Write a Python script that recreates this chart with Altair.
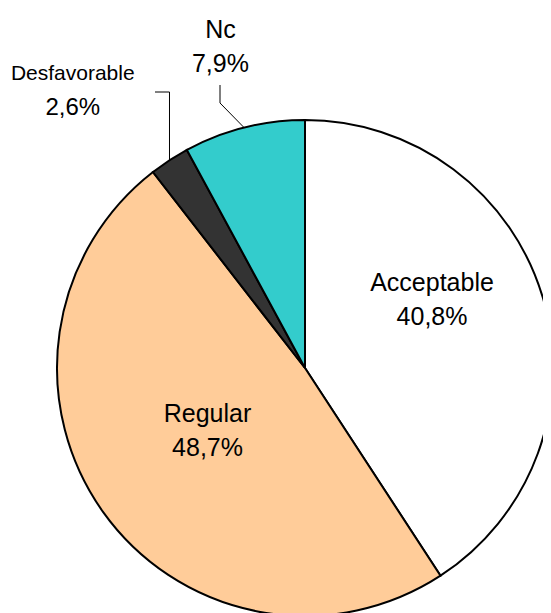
import math
import altair as alt
import pandas as pd

categories = ["Acceptable", "Regular", "Desfavorable", "Nc"]
values = [40.8, 48.7, 2.6, 7.9]
pct_labels = ["40,8%", "48,7%", "2,6%", "7,9%"]
colors = ["#FFFFFF", "#FFCC99", "#333333", "#33CCCC"]

W, H = 535, 605
CX, CY, R = 297, 360, 248

df = pd.DataFrame({
    "cat": categories,
    "value": values,
    "pct": pct_labels,
    "idx": list(range(len(categories))),
})

base = alt.Chart(df).transform_window(
    cum="sum(value)", sort=[alt.SortField("idx")]
).transform_calculate(
    mid="datum.cum - datum.value / 2",
    ex=f"{CX} + {R} * sin(datum.mid / 100 * 2 * PI)",
    ey=f"{CY} - {R} * cos(datum.mid / 100 * 2 * PI)",
)

theta_scale = alt.Scale(domain=[0, 100], range=[0, 2 * math.pi])
xs = alt.Scale(domain=[0, W], range=[0, W])
ys = alt.Scale(domain=[0, H], range=[0, H])

pie = alt.Chart(df).mark_arc(
    outerRadius=R, stroke="black", strokeWidth=2
).encode(
    theta=alt.Theta("value:Q", stack=True),
    color=alt.Color("cat:N", scale=alt.Scale(domain=categories, range=colors), legend=None),
    order=alt.Order("idx:Q"),
    x=alt.value(CX),
    y=alt.value(CY),
)

FONT = "Liberation Sans, Arial, sans-serif"
HALF = 17


def text_layer(cat, field, radius, dx, dy, size):
    return base.transform_filter(alt.datum.cat == cat).mark_text(
        radius=radius, dx=dx, dy=dy, font=FONT, fontSize=size,
        align="center", baseline="middle", color="black",
    ).encode(
        theta=alt.Theta("mid:Q", scale=theta_scale, stack=None),
        text=f"{field}:N",
        x=alt.value(CX),
        y=alt.value(CY),
    )


def label_pair(cat, radius, dx, dy, name_size=25, pct_size=25):
    return [
        text_layer(cat, "cat", radius, dx, dy - HALF, name_size),
        text_layer(cat, "pct", radius, dx, dy + HALF, pct_size),
    ]


labels = (
    label_pair("Acceptable", 144, -11, -27)
    + label_pair("Regular", 116, -3, -4)
    + label_pair("Desfavorable", 361, -35, 25, name_size=21, pct_size=24)
    + label_pair("Nc", 332, -3, 1)
)

# leader lines, starting at the slice edge (derived from data)
des = base.transform_filter(alt.datum.cat == "Desfavorable")
nc = base.transform_filter(alt.datum.cat == "Nc")

lead1 = des.mark_rule(color="black", strokeWidth=1).encode(
    x=alt.X("ex:Q", scale=xs, axis=None), y=alt.Y("ey:Q", scale=ys, axis=None),
    x2="ex:Q", y2=alt.value(84),
)
lead2 = des.mark_rule(color="black", strokeWidth=1).encode(
    x=alt.X("ex:Q", scale=xs, axis=None), x2=alt.value(147), y=alt.value(84),
)
lead3 = nc.mark_rule(color="black", strokeWidth=1).encode(
    x=alt.X("ex:Q", scale=xs, axis=None), y=alt.Y("ey:Q", scale=ys, axis=None),
    x2=alt.value(212), y2=alt.value(95),
)
lead4 = nc.mark_rule(color="black", strokeWidth=1).encode(
    x=alt.value(212), y=alt.value(95), y2=alt.value(77),
)

chart = alt.layer(pie, lead1, lead2, lead3, lead4, *labels).properties(
    width=W, height=H, padding=0, autosize=alt.AutoSizeParams(type="none"),
    background="white",
).configure_view(stroke=None)

chart.save("out.html", embed_options={"renderer": "svg", "actions": False})
